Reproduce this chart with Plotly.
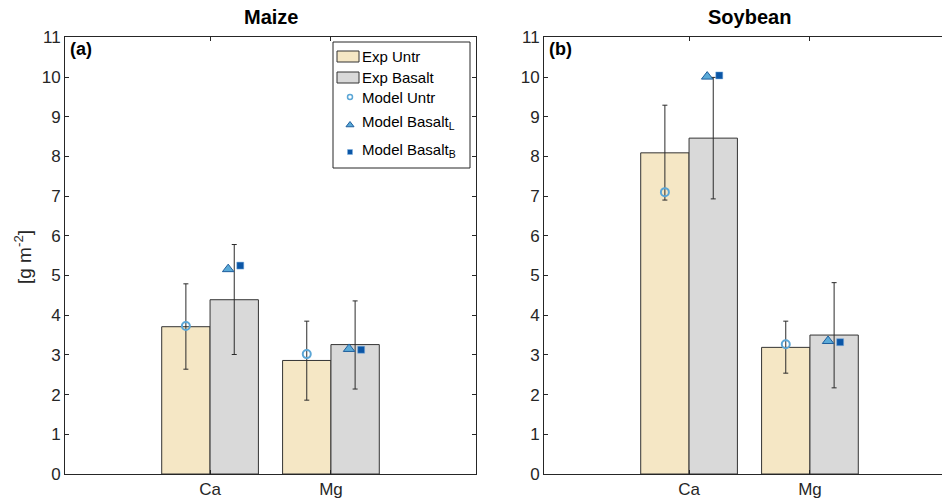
import plotly.graph_objects as go

categories = ["Ca", "Mg"]
cat_pos = [1, 2]

# Maize
maize_exp_untr = [3.71, 2.86]
maize_exp_untr_lo = [2.64, 1.86]
maize_exp_untr_hi = [4.79, 3.85]
maize_exp_bas = [4.39, 3.26]
maize_exp_bas_lo = [3.01, 2.14]
maize_exp_bas_hi = [5.78, 4.36]
maize_mod_untr = [3.73, 3.02]
maize_mod_bas_L = [5.16, 3.15]
maize_mod_bas_B = [5.25, 3.13]

# Soybean
soy_exp_untr = [8.09, 3.19]
soy_exp_untr_lo = [6.90, 2.54]
soy_exp_untr_hi = [9.29, 3.85]
soy_exp_bas = [8.46, 3.50]
soy_exp_bas_lo = [6.93, 2.17]
soy_exp_bas_hi = [9.99, 4.82]
soy_mod_untr = [7.10, 3.27]
soy_mod_bas_L = [10.01, 3.35]
soy_mod_bas_B = [10.04, 3.32]

y_ticks = list(range(0, 12))
legend_labels = ["Exp Untr", "Exp Basalt", "Model Untr",
                 "Model Basalt<sub>L</sub>", "Model Basalt<sub>B</sub>"]

W, H = 942, 502
FONT = "Liberation Sans, Arial, Helvetica, sans-serif"
TXT = "#262626"
UNTR_FILL = "#F5E7C5"
BAS_FILL = "#D9D9D9"
EDGE = "#333333"
ERR = "#2b2b2b"
CIRC = "#5BA6D6"
TRI_FILL = "#5AAAD8"
TRI_EDGE = "#1F5E9C"
SQ = "#0B56A6"

fig = go.Figure()


def add_panel(xa, ya, untr, untr_lo, untr_hi, bas, bas_lo, bas_hi, m_u, m_l, m_b):
    fig.add_trace(go.Bar(
        x=cat_pos, y=untr, offset=-0.4, width=0.4, name=legend_labels[0],
        marker=dict(color=UNTR_FILL, line=dict(color=EDGE, width=1)),
        error_y=dict(type="data", symmetric=False,
                     array=[h - v for h, v in zip(untr_hi, untr)],
                     arrayminus=[v - l for l, v in zip(untr_lo, untr)],
                     color=ERR, thickness=1, width=2.5),
        xaxis=xa, yaxis=ya, showlegend=False))
    fig.add_trace(go.Bar(
        x=cat_pos, y=bas, offset=0.0, width=0.4, name=legend_labels[1],
        marker=dict(color=BAS_FILL, line=dict(color=EDGE, width=1)),
        error_y=dict(type="data", symmetric=False,
                     array=[h - v for h, v in zip(bas_hi, bas)],
                     arrayminus=[v - l for l, v in zip(bas_lo, bas)],
                     color=ERR, thickness=1, width=2.5),
        xaxis=xa, yaxis=ya, showlegend=False))
    fig.add_trace(go.Scatter(
        x=[p - 0.2 for p in cat_pos], y=m_u, mode="markers", name=legend_labels[2],
        marker=dict(symbol="circle-open", size=8, color=CIRC, line=dict(width=2, color=CIRC)),
        xaxis=xa, yaxis=ya, showlegend=False))
    fig.add_trace(go.Scatter(
        x=[p + 0.15 for p in cat_pos], y=m_l, mode="markers", name=legend_labels[3],
        marker=dict(symbol="triangle-up", size=10, color=TRI_FILL, line=dict(width=1, color=TRI_EDGE)),
        xaxis=xa, yaxis=ya, showlegend=False))
    fig.add_trace(go.Scatter(
        x=[p + 0.25 for p in cat_pos], y=m_b, mode="markers", name=legend_labels[4],
        marker=dict(symbol="square", size=7, color=SQ, line=dict(width=0.5, color="#7fb0e0")),
        xaxis=xa, yaxis=ya, showlegend=False))


add_panel("x", "y", maize_exp_untr, maize_exp_untr_lo, maize_exp_untr_hi,
          maize_exp_bas, maize_exp_bas_lo, maize_exp_bas_hi,
          maize_mod_untr, maize_mod_bas_L, maize_mod_bas_B)
add_panel("x2", "y2", soy_exp_untr, soy_exp_untr_lo, soy_exp_untr_hi,
          soy_exp_bas, soy_exp_bas_lo, soy_exp_bas_hi,
          soy_mod_untr, soy_mod_bas_L, soy_mod_bas_B)

# ---- manual legend (pixel-space overlay axis x3/y3) ----
LX = 350
leg_marker_y = [97, 125, 152]
fig.add_trace(go.Scatter(x=[LX], y=[leg_marker_y[0]], mode="markers", xaxis="x3", yaxis="y3",
                         marker=dict(symbol="circle-open", size=5, color=CIRC, line=dict(width=1.5, color=CIRC)),
                         showlegend=False, hoverinfo="skip"))
fig.add_trace(go.Scatter(x=[LX], y=[leg_marker_y[1]], mode="markers", xaxis="x3", yaxis="y3",
                         marker=dict(symbol="triangle-up", size=7, color=TRI_FILL, line=dict(width=1, color=TRI_EDGE)),
                         showlegend=False, hoverinfo="skip"))
fig.add_trace(go.Scatter(x=[LX], y=[leg_marker_y[2]], mode="markers", xaxis="x3", yaxis="y3",
                         marker=dict(symbol="square", size=5, color=SQ, line=dict(width=0.5, color="#7fb0e0")),
                         showlegend=False, hoverinfo="skip"))

shapes = [
    dict(type="rect", xref="x3", yref="y3", x0=333, x1=470, y0=42, y1=168,
         line=dict(color=TXT, width=1), fillcolor="rgba(0,0,0,0)", layer="above"),
    dict(type="rect", xref="x3", yref="y3", x0=337, x1=359, y0=51, y1=62,
         line=dict(color=EDGE, width=1), fillcolor=UNTR_FILL, layer="above"),
    dict(type="rect", xref="x3", yref="y3", x0=337, x1=359, y0=72, y1=83,
         line=dict(color=EDGE, width=1), fillcolor=BAS_FILL, layer="above"),
]
leg_text_y = [56.5, 77.5, 97, 122, 150]

y_top = 1 - 37.3 / H
y_bot = 1 - 474 / H
x1_l, x1_r = 65 / W, 476 / W
x2_l = 544 / W
unit_px = (476 - 65) / 3.4
x2_max = -0.2 + (W - 544) / unit_px

ax_common = dict(showgrid=False, zeroline=False, showline=True, linecolor=TXT, linewidth=1,
                 ticks="inside", ticklen=4, tickcolor=TXT, automargin=False,
                 tickfont=dict(family=FONT, size=17, color=TXT))

annotations = [
    dict(text="<b>Maize</b>", x=(65 + 476) / 2 / W, y=1 - 17 / H, xref="paper", yref="paper",
         showarrow=False, font=dict(family=FONT, size=20, color="black"), xanchor="center", yanchor="middle"),
    dict(text="<b>Soybean</b>", x=(544 + 955) / 2 / W, y=1 - 17 / H, xref="paper", yref="paper",
         showarrow=False, font=dict(family=FONT, size=20, color="black"), xanchor="center", yanchor="middle"),
    dict(text="<b>(a)</b>", x=68 / W, y=1 - 49 / H, xref="paper", yref="paper",
         showarrow=False, font=dict(family=FONT, size=18, color="black"), xanchor="left", yanchor="middle"),
    dict(text="<b>(b)</b>", x=547 / W, y=1 - 49 / H, xref="paper", yref="paper",
         showarrow=False, font=dict(family=FONT, size=18, color="black"), xanchor="left", yanchor="middle"),
    dict(text="[g m<sup>-2</sup>]", x=23 / W, y=1 - 257 / H, xref="paper", yref="paper",
         showarrow=False, textangle=-90, font=dict(family=FONT, size=19, color=TXT),
         xanchor="center", yanchor="middle"),
]
for lab, ty in zip(legend_labels, leg_text_y):
    annotations.append(dict(text=lab, x=360, y=ty, xref="x3", yref="y3", showarrow=False,
                            xanchor="left", yanchor="middle",
                            font=dict(family=FONT, size=15, color="black")))

fig.update_layout(
    width=W, height=H, margin=dict(l=0, r=0, t=0, b=0, pad=0),
    paper_bgcolor="white", plot_bgcolor="rgba(0,0,0,0)",
    barmode="overlay", showlegend=False,
    font=dict(family=FONT, color=TXT),
    xaxis=dict(domain=[x1_l, x1_r], range=[-0.2, 3.2], tickvals=cat_pos, ticktext=categories,
               mirror="ticks", anchor="y", **ax_common),
    yaxis=dict(domain=[y_bot, y_top], range=[0, 11], tickvals=y_ticks, mirror="ticks",
               anchor="x", **ax_common),
    xaxis2=dict(domain=[x2_l, 1], range=[-0.2, x2_max], tickvals=cat_pos, ticktext=categories,
                mirror="ticks", anchor="y2", **ax_common),
    yaxis2=dict(domain=[y_bot, y_top], range=[0, 11], tickvals=y_ticks, mirror=False,
                anchor="x2", **ax_common),
    xaxis3=dict(domain=[0, 1], range=[0, W], visible=False, anchor="y3", fixedrange=True),
    yaxis3=dict(domain=[0, 1], range=[H, 0], visible=False, anchor="x3", fixedrange=True),
    shapes=shapes,
    annotations=annotations,
)

fig.write_html("out.html")
